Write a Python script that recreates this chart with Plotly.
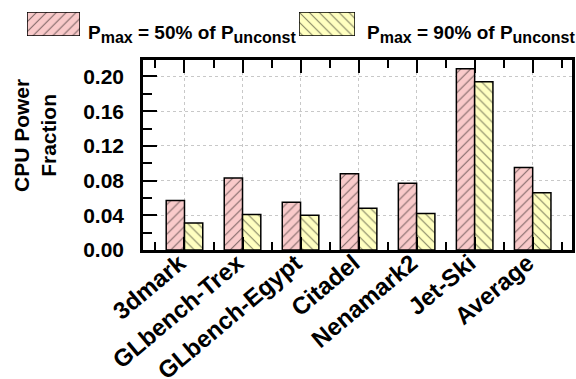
import plotly.graph_objects as go

categories = ["3dmark", "GLbench-Trex", "GLbench-Egypt", "Citadel", "Nenamark2", "Jet-Ski", "Average"]
p50 = [0.057, 0.083, 0.055, 0.088, 0.077, 0.209, 0.095]
p90 = [0.031, 0.041, 0.040, 0.048, 0.042, 0.194, 0.066]
series_names = ["P<sub>max</sub> = 50% of P<sub>unconst</sub>", "P<sub>max</sub> = 90% of P<sub>unconst</sub>"]
legend_labels = [
    'P<sub><span style="font-size:16px">max</span></sub> = 50% of P<sub><span style="font-size:16px">unconst</span></sub>',
    'P<sub><span style="font-size:16px">max</span></sub> = 90% of P<sub><span style="font-size:16px">unconst</span></sub>',
]
y_ticks = [0.00, 0.04, 0.08, 0.12, 0.16, 0.20]

W, H = 576, 379
PINK = "#F9CACA"
YELLOW = "#FFFFC0"
FONT = "Liberation Sans"

def px(x):
    return x / W

def py(y):
    return 1 - y / H

xpos = list(range(len(categories)))

fig = go.Figure()
fig.add_trace(go.Bar(
    x=xpos, y=p50, name=series_names[0], showlegend=False,
    marker=dict(color=PINK, line=dict(color="black", width=1.5),
                pattern=dict(shape="/", fgcolor="black", bgcolor=PINK, size=7, solidity=0.15)),
))
fig.add_trace(go.Bar(
    x=xpos, y=p90, name=series_names[1], showlegend=False,
    marker=dict(color=YELLOW, line=dict(color="black", width=1.5),
                pattern=dict(shape="\\", fgcolor="black", bgcolor=YELLOW, size=7, solidity=0.15)),
))

# legend swatches drawn as bars on small hidden axes
swatches = [(27, 80, 12, 36, "/", PINK, "x3", "y3"), (299, 355, 12, 36, "\\", YELLOW, "x4", "y4")]
for (x0, x1, y0, y1, shp, col, xa, ya) in swatches:
    fig.add_trace(go.Bar(
        x=[0], y=[1], width=[1], xaxis=xa, yaxis=ya, showlegend=False, hoverinfo="skip",
        marker=dict(color=col, line=dict(color="black", width=1.5),
                    pattern=dict(shape=shp, fgcolor="black", bgcolor=col, size=7, solidity=0.15)),
    ))

fig.update_layout(
    width=W, height=H,
    margin=dict(l=0, r=0, t=0, b=0, autoexpand=False),
    paper_bgcolor="white", plot_bgcolor="white",
    font=dict(family=FONT, size=20, color="black", weight="bold"),
    barmode="group", bargap=0.37, bargroupgap=0,
    xaxis=dict(
        domain=[px(143), px(571.5)], range=[-0.715, 6.669], automargin=False,
        tickmode="array", tickvals=xpos, ticktext=categories, tickangle=-40,
        tickfont=dict(size=24, family=FONT, weight="bold"),
        ticklabelstandoff=-13, ticklabelshift=-5,
        ticks="inside", ticklen=13, tickwidth=2, tickcolor="black",
        minor=dict(tickmode="linear", tick0=0.5, dtick=1, ticks="inside", ticklen=8, tickwidth=2,
                   tickcolor="black", showgrid=False),
        showline=True, linecolor="black", linewidth=2.5, mirror="allticks",
        showgrid=True, gridcolor="#C8C8C8", griddash="dot", gridwidth=1,
        zeroline=False, fixedrange=True,
    ),
    yaxis=dict(
        domain=[py(250), py(60)], range=[0, 0.219], automargin=False,
        tickmode="array", tickvals=y_ticks, tickformat=".2f",
        tickfont=dict(size=21, family=FONT, weight="bold"),
        ticks="inside", ticklen=14, tickwidth=2, tickcolor="black",
        ticklabelstandoff=12,
        minor=dict(tickmode="linear", tick0=0, dtick=0.02, ticks="inside", ticklen=9, tickwidth=2,
                   tickcolor="black", showgrid=False),
        showline=True, linecolor="black", linewidth=2.5, mirror=True,
        showgrid=True, gridcolor="#C8C8C8", griddash="dot", gridwidth=1,
        zeroline=False, fixedrange=True,
    ),
    yaxis2=dict(
        overlaying="y", side="right", anchor="x", range=[0, 0.219], automargin=False,
        tickmode="array", tickvals=y_ticks, showticklabels=False,
        ticks="inside", ticklen=7, tickwidth=2, tickcolor="black",
        minor=dict(tickmode="linear", tick0=0, dtick=0.02, ticks="inside", ticklen=6, tickwidth=2,
                   tickcolor="black", showgrid=False),
        showline=False, showgrid=False, zeroline=False,
    ),
)

for i, (x0, x1, y0, y1, shp, col, xa, ya) in enumerate(swatches):
    n = str(3 + i)
    fig.layout["xaxis" + n] = dict(domain=[px(x0), px(x1)], range=[-0.5, 0.5], visible=False,
                                   anchor="y" + n, fixedrange=True, automargin=False)
    fig.layout["yaxis" + n] = dict(domain=[py(y1), py(y0)], range=[0, 1], visible=False,
                                   anchor="x" + n, fixedrange=True, automargin=False)

legend_text_x = [86, 365]
for i, name in enumerate(legend_labels):
    fig.add_annotation(
        x=px(legend_text_x[i]), y=py(34), xref="paper", yref="paper",
        xanchor="left", yanchor="middle", showarrow=False,
        text=name, font=dict(size=19, family=FONT, weight="bold"),
    )

fig.add_annotation(
    x=px(35), y=py(136), xref="paper", yref="paper", textangle=-90,
    xanchor="center", yanchor="middle", showarrow=False,
    text="CPU Power<br>Fraction", font=dict(size=21, family=FONT, weight="bold"),
)

fig.write_html("out.html", config={"displayModeBar": False})
